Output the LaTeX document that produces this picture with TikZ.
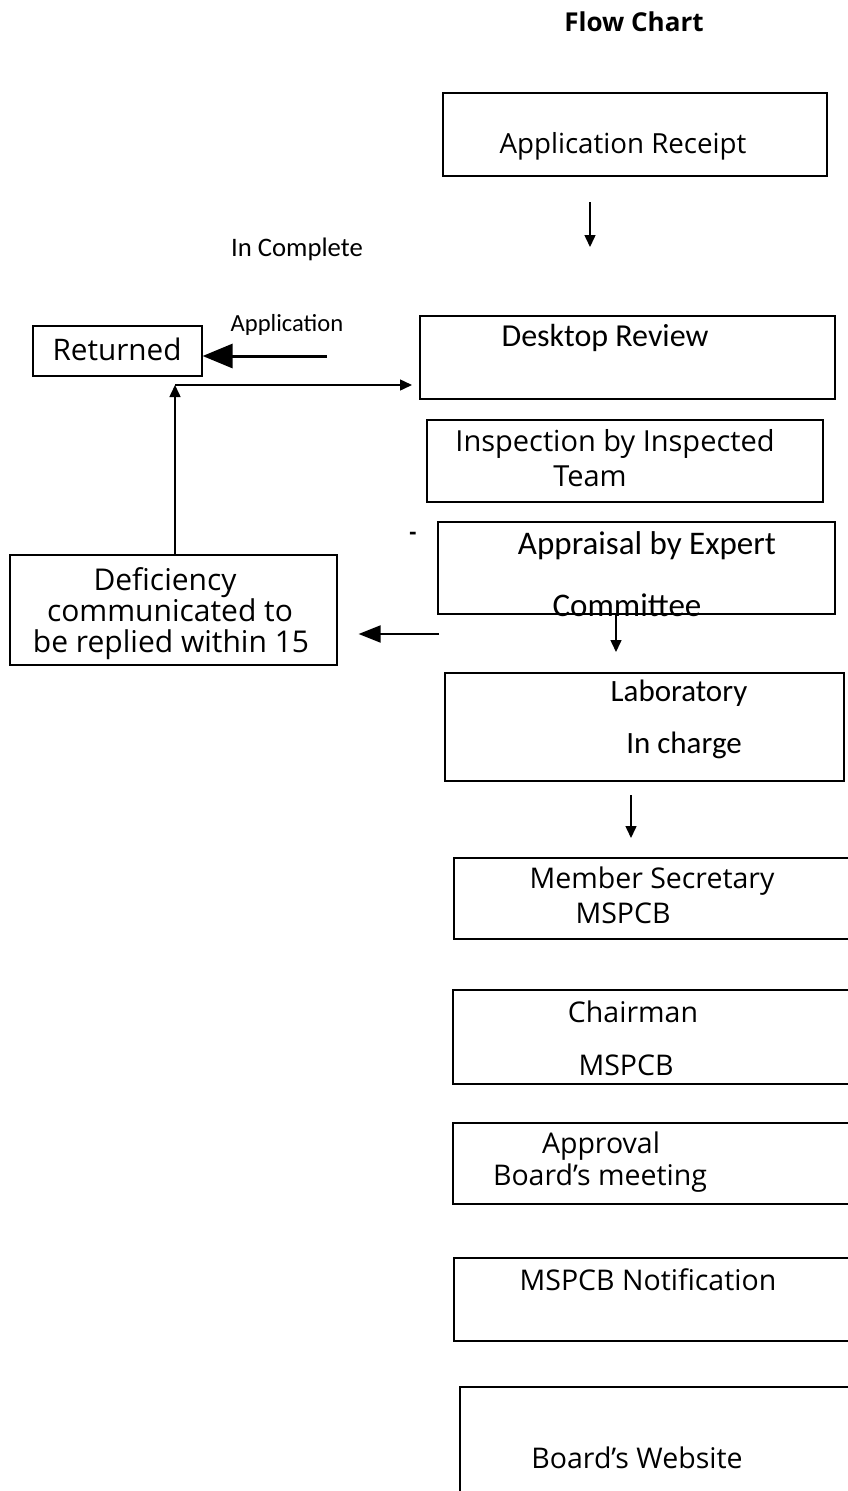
\documentclass[tikz,border=0pt]{standalone}
\usepackage{fontspec}
\setmainfont{Open Sans}
\newfontfamily\calibri{Carlito}
\usetikzlibrary{arrows.meta}

\tikzset{
  box/.style={draw, line width=1.6pt, inner sep=0pt, anchor=north west},
  txt/.style={font=\fontsize{28.5}{32}\selectfont, inner sep=0pt},
  ctxt/.style={font=\calibri\fontsize{32}{36}\selectfont, inner sep=0pt},
  arr/.style={line width=1.5pt, -{Triangle[length=12pt,width=11pt]}},
  midarr/.style={line width=2pt, -{Triangle[length=22pt,width=17pt]}},
  bigarr/.style={line width=3pt, -{Triangle[length=30pt,width=24pt]}},
}

\begin{document}
\begin{tikzpicture}[x=1pt, y=-1pt]
			%%%%% FRAME %%%%%
			\useasboundingbox (0,0) rectangle (848,1491);
			\clip (0,0) rectangle (848,1491);
			
			\node[font=\bfseries\fontsize{26}{30}\selectfont] (title) at (634,22) {Flow Chart};
			
			%%%%% BOXES %%%%%
			\node[box, minimum width=384pt, minimum height=83pt] (receipt) at (442,92) {};
			\node[txt, font=\fontsize{27.7}{32}\selectfont] (receipt-t) at (623,146) {Application Receipt};
			
			\node[box, minimum width=169pt, minimum height=50pt] (returned) at (32,325) {};
			\node[txt, font=\fontsize{29.7}{32}\selectfont] (returned-t) at (117,349) {Returned};
			
			\node[box, minimum width=415pt, minimum height=83pt] (desk) at (419,315) {};
			\node[ctxt] (desk-t) at (605,338) {Desktop Review};
			
			\node[box, minimum width=396pt, minimum height=82pt] (insp) at (426,419) {};
			\node[txt, font=\fontsize{29}{32}\selectfont] (insp-t1) at (615,444) {Inspection by Inspected};
			\node[txt, font=\fontsize{29}{32}\selectfont] (insp-t2) at (590,476) {Team};
			
			\node[box, minimum width=397pt, minimum height=92pt] (appr) at (437,521) {};
			\node[ctxt, font=\calibri\fontsize{33}{36}\selectfont] (appr-t1) at (647,546) {Appraisal by Expert};
			\node[ctxt, font=\calibri\fontsize{33}{36}\selectfont] (appr-t2) at (627,605) {Committee};
			\node[font=\bfseries\fontsize{22}{24}\selectfont] (dash) at (413,536) {-};
			
			\node[box, minimum width=327pt, minimum height=110pt] (defic) at (9,554) {};
			\node[txt, font=\fontsize{30}{32}\selectfont, anchor=base] (defic-t1) at (165,590) {Deficiency};
			\node[txt, font=\fontsize{30}{32}\selectfont, anchor=base] (defic-t2) at (170,621) {communicated to};
			\node[txt, font=\fontsize{30}{32}\selectfont, anchor=base] (defic-t3) at (171,652) {be replied within 15};
			
			\node[box, minimum width=399pt, minimum height=108pt] (lab) at (444,672) {};
			\node[ctxt, font=\calibri\fontsize{31}{36}\selectfont] (lab-t1) at (679,693) {Laboratory};
			\node[ctxt, font=\calibri\fontsize{31}{36}\selectfont] (lab-t2) at (684,745) {In charge};
			
			\node[box, minimum width=400pt, minimum height=81pt] (member) at (453,857) {};
			\node[txt] (member-t1) at (652,881) {Member Secretary};
			\node[txt] (member-t2) at (623,913) {MSPCB};
			
			\node[box, minimum width=400pt, minimum height=94pt] (chair) at (452,989) {};
			\node[txt] (chair-t1) at (633,1012) {Chairman};
			\node[txt] (chair-t2) at (626,1065) {MSPCB};
			
			\node[box, minimum width=400pt, minimum height=81pt] (approv) at (452,1122) {};
			\node[txt] (approv-t1) at (601,1146) {Approval};
			\node[txt] (approv-t2) at (600,1178) {Board’s meeting};
			
			\node[box, minimum width=400pt, minimum height=83pt] (notif) at (453,1257) {};
			\node[txt] (notif-t) at (648,1280) {MSPCB Notification};
			
			\node[box, minimum width=400pt, minimum height=130pt] (web) at (459,1386) {};
			\node[txt] (web-t) at (637,1458) {Board’s Website};
			
			%%%%% LABELS %%%%%
			\node[ctxt, font=\calibri\fontsize{26.7}{30}\selectfont] (incomp) at (297,249) {In Complete};
			\node[ctxt, font=\calibri\fontsize{24.6}{28}\selectfont] (applabel) at (287,325) {Application};
			
			%%%%% ARROWS %%%%%
			\coordinate (a1s) at (590,202);
			\coordinate (a1e) at (590,247);
			\draw[arr] (a1s) -- (a1e);
			
			\coordinate (rets) at (327,356);
			\draw[bigarr] (rets) -- (returned.east |- rets);
			
			\coordinate (corner) at (175,385);
			\draw[arr] (defic.north -| corner) -- (corner);
			\draw[arr, shorten >=7pt] (corner) -- (desk.west |- corner);
			
			\coordinate (defs) at (439,634);
			\draw[midarr, shorten >=21pt] (defs) -- (defic.east |- defs);
			
			\coordinate (a2e) at (616,652);
			\draw[arr] (appr.south -| a2e) -- (a2e);
			
			\coordinate (a3s) at (631,795);
			\coordinate (a3e) at (631,838);
			\draw[arr] (a3s) -- (a3e);
			
\end{tikzpicture}
\end{document}
